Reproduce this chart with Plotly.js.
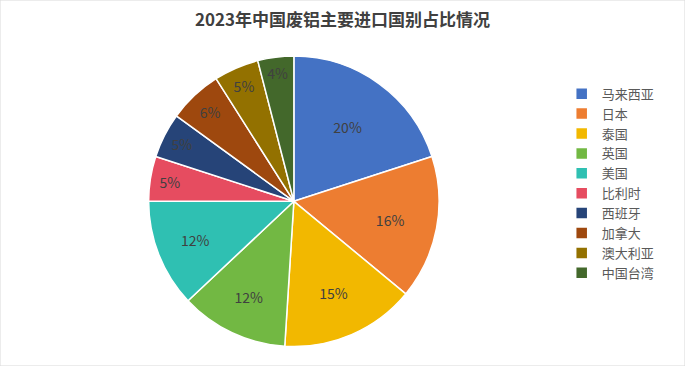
<!DOCTYPE html>
<html><head><meta charset="utf-8">
<script src="https://cdn.plot.ly/plotly-3.0.1.min.js"></script>
<style>html,body{margin:0;padding:0;background:#fff}#c{width:685px;height:366px}</style>
</head><body><div id="c"></div>
<script>
var countries = ['马来西亚','日本','泰国','英国','美国','比利时','西班牙','加拿大','澳大利亚','中国台湾'];
var shares = [20,16,15,12,12,5,5,6,5,4];
var colors = ['#4472C4','#ED7D31','#F2B800','#72B843','#2FC0B2','#E64C60','#264478','#9E480E','#937100','#43682B'];
var titleText = '2023年中国废铝主要进口国别占比情况';

var font = '"Noto Sans CJK SC", "Noto Sans", sans-serif';
var trace = {
  type:'pie', labels:countries, values:shares, sort:false, direction:'clockwise', rotation:0,
  marker:{colors:colors, line:{color:'#ffffff', width:1.5}},
  texttemplate:'%{value}%', textposition:'inside', insidetextorientation:'horizontal',
  insidetextfont:{color:'#404040', size:14, family:font},
  hoverinfo:'label+percent',
  domain:{x:[0.217,0.641], y:[0.052,0.848]}
};
var layout = {
  width:685, height:366, margin:{l:0,r:0,t:0,b:0},
  paper_bgcolor:'#ffffff', font:{family:font, color:'#595959'},
  title:{text:'<b>'+titleText+'</b>', x:0.5, xanchor:'center', y:0.945, yanchor:'middle', font:{size:17, color:'#404040', family:font}},
  legend:{x:0.82, xanchor:'left', y:0.498, yanchor:'middle', font:{size:13, color:'#595959', family:font}, tracegroupgap:0, itemwidth:30},
  shapes:[{type:'rect', xref:'paper', yref:'paper', x0:0, x1:1, y0:0, y1:1, line:{color:'#D9D9D9', width:1}}]
};
Plotly.newPlot('c',[trace],layout,{displayModeBar:false});
</script></body></html>
